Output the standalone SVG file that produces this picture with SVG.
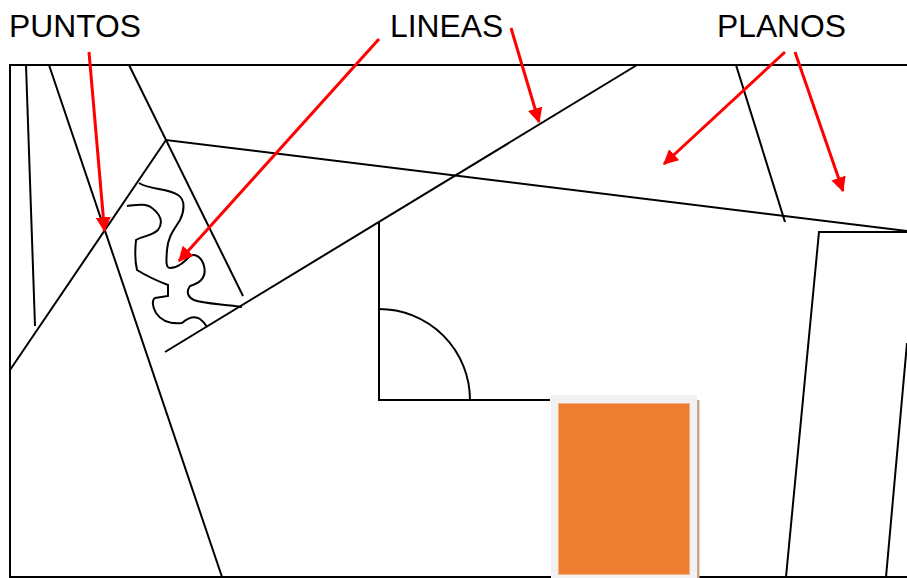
<svg xmlns="http://www.w3.org/2000/svg" width="907" height="578" viewBox="0 0 907 578">
<style>
.ln{fill:none;stroke:#000;stroke-width:2;stroke-linecap:butt;stroke-linejoin:miter}
.ar{fill:none;stroke:#FF0000;stroke-width:3}
.lbl{font-family:"Liberation Sans",Arial,sans-serif;font-size:31.8px;fill:#000}
</style>
<defs>
<marker id="ah" markerWidth="5" markerHeight="5" refX="4.6" refY="2.5" orient="auto" markerUnits="strokeWidth">
<path d="M0,0 L5,2.5 L0,5 Z" fill="#FF0000"/>
</marker>
</defs>
<rect width="907" height="578" fill="#fff"/>
<g id="lines">
<path class="ln" d="M910,65 H10 V577 H910"/>
<path class="ln" d="M26,65 L35,326"/>
<path class="ln" d="M49,65 L222,577"/>
<path class="ln" d="M129,65 L243,296"/>
<path class="ln" d="M10,370 L166,140 L907,231"/>
<path class="ln" d="M165,352 L637,65"/>
<path class="ln" d="M379,222 V400 H550"/>
<path class="ln" d="M379,309 A91,91 0 0 1 470,400"/>
<path class="ln" d="M736,65 L785,222"/>
<path class="ln" d="M786,577 L819,232 H907"/>
<path class="ln" d="M907,343 L886,577"/>
</g>
<g id="squiggles">
<path class="ln" d="M139,183 C150,190 168,188 178,195 C186,200 184,212 180,220 C174,230 168,236 167,250 C166,262 166,268 170,268 C178,268 184,262 190,256 C196,253 202,258 204,266 C206,274 204,282 190,286 C187,290 186,296 194,300 C204,304 225,304 242,307"/>
<path class="ln" d="M127,206 C136,205 146,203 152,208 C160,214 164,222 158,230 C152,236 142,236 136,240 C135,250 135,262 137,270 C145,275 155,280 168,285 L168,296 L155,298 C152,300 152,306 156,313 C162,322 172,324 182,323 C188,318 194,315 200,319 C204,322 206,325 207,327"/>
</g>
<g id="box">
<rect x="551" y="395" width="146" height="185" fill="#F2F2F2"/>
<rect x="697" y="400" width="2.5" height="180" fill="#C9A48E"/>
<rect x="558.5" y="403.5" width="131" height="171" fill="#ED7D31" stroke="#F4B183" stroke-width="1"/>
</g>
<g id="labels">
<text class="lbl" x="9" y="37">PUNTOS</text>
<text class="lbl" x="390" y="37">LINEAS</text>
<text class="lbl" x="717" y="37">PLANOS</text>
</g>
<g id="arrows">
<line class="ar" x1="89" y1="52" x2="104.5" y2="231" marker-end="url(#ah)"/>
<line class="ar" x1="379" y1="39" x2="179" y2="261" marker-end="url(#ah)"/>
<line class="ar" x1="511" y1="28" x2="539" y2="122" marker-end="url(#ah)"/>
<line class="ar" x1="785" y1="52" x2="664" y2="164" marker-end="url(#ah)"/>
<line class="ar" x1="795" y1="52" x2="843" y2="191" marker-end="url(#ah)"/>
</g>
</svg>
